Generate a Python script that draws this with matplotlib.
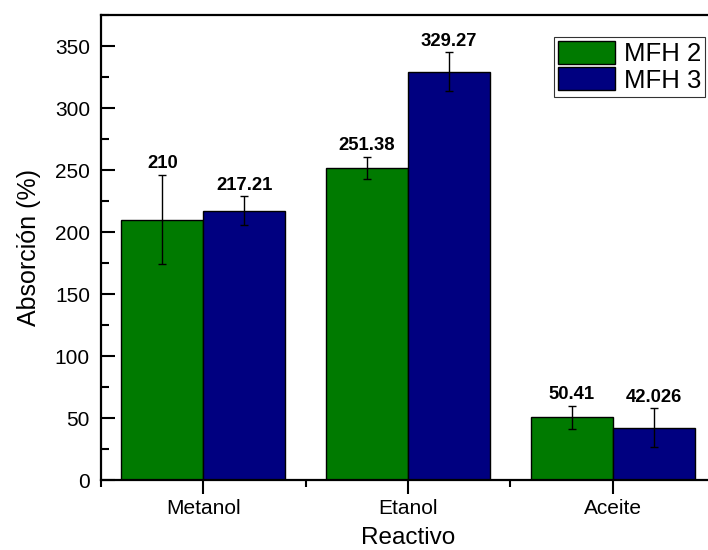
import numpy as np
import matplotlib
matplotlib.use('Agg')
import matplotlib.pyplot as plt
from matplotlib.ticker import MultipleLocator, FixedLocator

plt.rcParams['font.family'] = ['Liberation Sans', 'DejaVu Sans']

# ------ datos
reactivos = ['Metanol', 'Etanol', 'Aceite']
mfh2 = [210, 251.38, 50.41]
mfh3 = [217.21, 329.27, 42.026]
err_mfh2 = [36, 9, 9.5]
err_mfh3 = [11.5, 15.5, 15.8]

GREEN = '#007a00'
NAVY = '#000080'

fig = plt.figure(figsize=(7.08, 5.5), dpi=100)
ax = fig.add_axes([101/708, 1 - 480/550, 614/708, 465/550])

x = np.arange(len(reactivos))
w = 0.4

for off, vals, errs, color, lab in [(-w/2, mfh2, err_mfh2, GREEN, 'MFH 2'),
                                    (w/2, mfh3, err_mfh3, NAVY, 'MFH 3')]:
    ax.bar(x + off, vals, width=w, color=color, edgecolor='black', linewidth=1, label=lab, zorder=2)
    ax.errorbar(x + off, vals, yerr=errs, fmt='none', ecolor='black', elinewidth=1,
                capsize=3, capthick=1, zorder=3)
    for xi, v, e in zip(x + off, vals, errs):
        ax.annotate(f'{v:g}', (xi, v + e), xytext=(0, 2), textcoords='offset points',
                    ha='center', va='bottom', fontsize=13.3, fontweight='bold')

ax.set_xlim(-0.5, 2.5)
ax.set_ylim(0, 375)
ax.set_xticks(x)
ax.set_xticklabels(reactivos)
ax.xaxis.set_minor_locator(FixedLocator([-0.5, 0.5, 1.5, 2.5]))
ax.yaxis.set_major_locator(MultipleLocator(50))
ax.yaxis.set_minor_locator(MultipleLocator(25))

ax.tick_params(axis='y', which='major', direction='in', length=10, width=1.5, labelsize=15, pad=8)
ax.tick_params(axis='y', which='minor', direction='in', length=6, width=1.5)
ax.tick_params(axis='x', which='major', direction='out', length=10, width=1.5, labelsize=15, pad=4)
ax.tick_params(axis='x', which='minor', direction='out', length=5, width=1.5)

for s in ax.spines.values():
    s.set_linewidth(1.6)
ax.spines['right'].set_visible(False)

ax.set_xlabel('Reactivo', fontsize=17.5, labelpad=6)
ax.set_ylabel('Absorción (%)', fontsize=18, labelpad=10)

leg = ax.legend(loc='upper right', bbox_to_anchor=(705/708, 1 - 37/550), bbox_transform=fig.transFigure,
                borderaxespad=0, fontsize=18.5, frameon=True, fancybox=False, edgecolor='black',
                handlelength=2.2, handleheight=1.0, labelspacing=0.05, borderpad=0.15,
                handletextpad=0.35)
leg.get_frame().set_linewidth(0.8)

fig.savefig('out.png', dpi=100)
